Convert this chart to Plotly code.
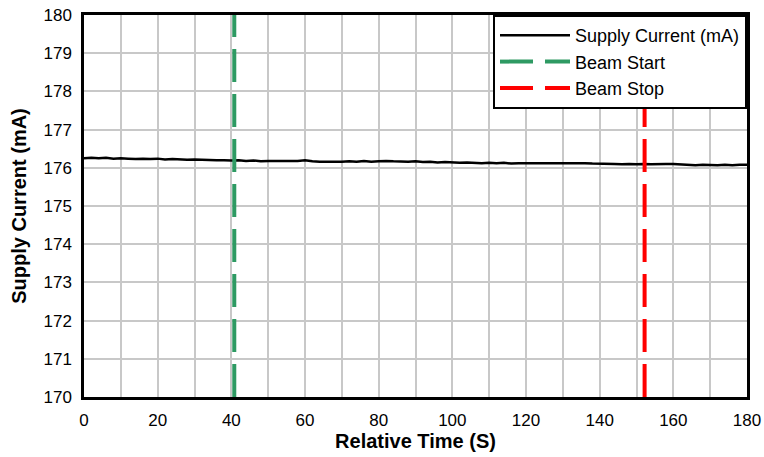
import plotly.graph_objects as go

time_s = list(range(0, 181, 2))
supply_ma = [176.25, 176.26, 176.25, 176.26, 176.24, 176.25, 176.24, 176.23, 176.24, 176.23,
             176.24, 176.22, 176.23, 176.22, 176.21, 176.22, 176.21, 176.21, 176.20, 176.20,
             176.19, 176.20, 176.18, 176.19, 176.17, 176.18, 176.18, 176.17, 176.17, 176.18,
             176.20, 176.17, 176.16, 176.16, 176.15, 176.16, 176.17, 176.16, 176.18, 176.16,
             176.17, 176.18, 176.17, 176.16, 176.16, 176.17, 176.15, 176.16, 176.14, 176.15,
             176.14, 176.13, 176.14, 176.13, 176.12, 176.13, 176.12, 176.13, 176.11, 176.12,
             176.12, 176.13, 176.12, 176.13, 176.13, 176.12, 176.13, 176.12, 176.12, 176.11,
             176.11, 176.10, 176.10, 176.09, 176.10, 176.09, 176.10, 176.09, 176.10, 176.10,
             176.10, 176.09, 176.08, 176.07, 176.08, 176.07, 176.07, 176.08, 176.07, 176.08,
             176.08]
beam_start_x = [40.8, 40.8]
beam_stop_x = [152.2, 152.2]
y_range = [170, 180]

fig = go.Figure()
fig.add_trace(go.Scatter(x=time_s, y=supply_ma, mode="lines", name="Supply Current (mA)",
                         line=dict(color="black", width=2.5)))
fig.add_trace(go.Scatter(x=beam_start_x, y=y_range, mode="lines", name="Beam Start",
                         line=dict(color="#2e9a63", width=4, dash="33px,12px")))
fig.add_trace(go.Scatter(x=beam_stop_x, y=y_range, mode="lines", name="Beam Stop",
                         line=dict(color="#ff0000", width=4, dash="33px,12px")))

font_family = "Liberation Sans, Arial, sans-serif"
fig.update_layout(
    width=764, height=457,
    margin=dict(l=84, r=17, t=15, b=60),
    paper_bgcolor="white", plot_bgcolor="white",
    font=dict(family=font_family, size=17, color="black"),
    showlegend=True,
    legend=dict(x=1, y=1, xanchor="right", yanchor="top",
                bordercolor="black", borderwidth=2, bgcolor="white",
                font=dict(size=18), itemwidth=70, tracegroupgap=0),
    xaxis=dict(range=[0, 180], dtick=20, tick0=0, automargin=False,
               showgrid=True, gridcolor="#c8c8c8", gridwidth=1.5,
               minor=dict(dtick=10, showgrid=True, gridcolor="#c8c8c8", gridwidth=1.5),
               showline=True, linecolor="black", linewidth=2.5, mirror=True,
               ticks="", zeroline=False, ticklabelstandoff=6,
               tickfont=dict(size=17),
               title=dict(text="<b>Relative Time (S)</b>", font=dict(size=20), standoff=2)),
    yaxis=dict(range=y_range, dtick=1, automargin=False,
               showgrid=True, gridcolor="#c8c8c8", gridwidth=1.5,
               showline=True, linecolor="black", linewidth=2.5, mirror=True,
               ticks="", zeroline=False, ticklabelstandoff=6,
               tickfont=dict(size=17),
               title=dict(text="<b>Supply Current (mA)</b>", font=dict(size=20), standoff=12)),
)

fig.write_html("out.html", config={"displayModeBar": False},
               post_script="document.body.style.margin='0px';")
